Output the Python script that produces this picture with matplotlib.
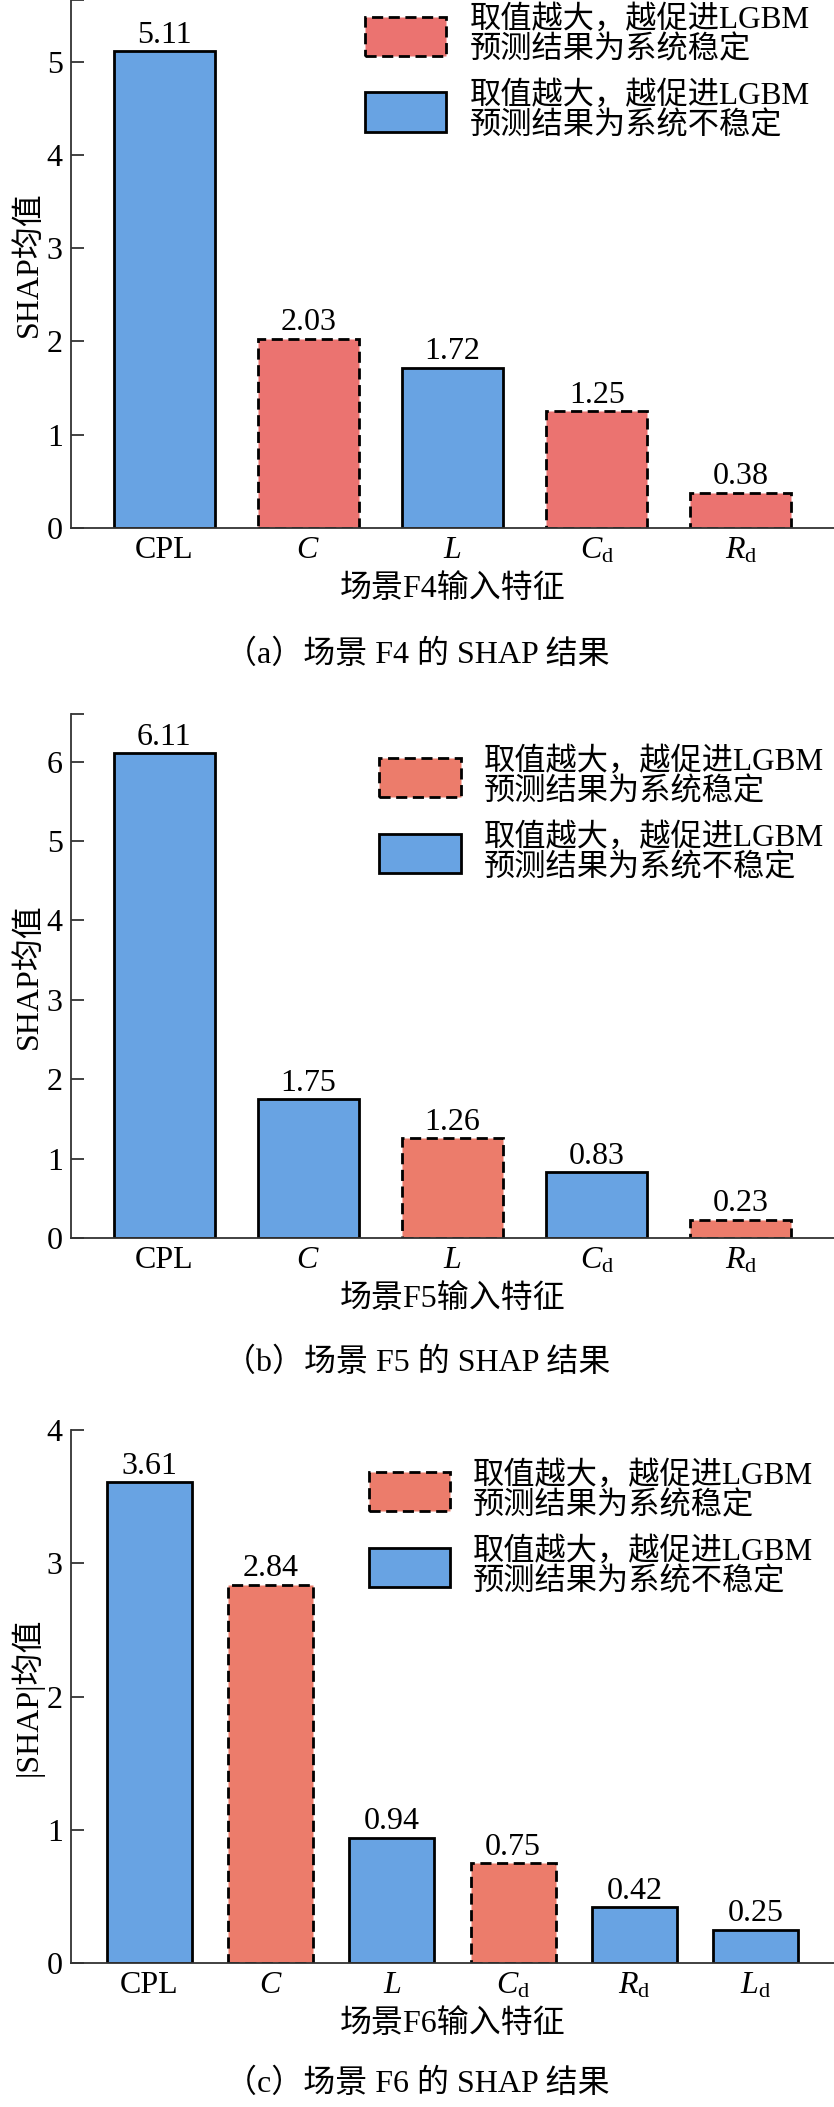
import matplotlib
matplotlib.use('Agg')
import matplotlib.pyplot as plt
from matplotlib.patches import Patch

plt.rcParams['font.family'] = ['Liberation Serif', 'Noto Sans CJK SC']
plt.rcParams['mathtext.fontset'] = 'custom'
plt.rcParams['mathtext.rm'] = 'Liberation Serif'
plt.rcParams['mathtext.it'] = 'Liberation Serif:italic'

# data
feat_5 = ['CPL', '$C$', '$L$', '$C_{\\mathrm{d}}$', '$R_{\\mathrm{d}}$']
feat_6 = ['CPL', '$C$', '$L$', '$C_{\\mathrm{d}}$', '$R_{\\mathrm{d}}$', '$L_{\\mathrm{d}}$']

f4_vals = [5.11, 2.03, 1.72, 1.25, 0.38]
f4_stable = [False, True, False, True, True]
f5_vals = [6.11, 1.75, 1.26, 0.83, 0.23]
f5_stable = [False, False, True, False, True]
f6_vals = [3.61, 2.84, 0.94, 0.75, 0.42, 0.25]
f6_stable = [False, True, False, True, False, False]

xlabels = ['场景F4输入特征', '场景F5输入特征', '场景F6输入特征']
ylabels = ['SHAP均值', 'SHAP均值', '|SHAP|均值']
captions = ['（a）场景 F4 的 SHAP 结果', '（b）场景 F5 的 SHAP 结果', '（c）场景 F6 的 SHAP 结果']
leg_labels = ['取值越大，越促进LGBM\n预测结果为系统稳定',
              '取值越大，越促进LGBM\n预测结果为系统不稳定']

blue = '#68A3E3'
reds = ['#EB7370', '#EC7C6B', '#EC7C6B']

FS = 23
W, H = 834, 2107
fig = plt.figure(figsize=(W / 100, H / 100), dpi=100)

# panel boxes in pixels: (top, bottom, ylim top, legend x, legend y, caption y)
panels = [
    (0, 528, 5.66, 0.385, 0.99, 655),
    (714, 1238, 6.6, 0.404, 0.937, 1363),
    (1430, 1963, 4.0, 0.390, 0.942, 2084),
]
data = [(feat_5, f4_vals, f4_stable), (feat_5, f5_vals, f5_stable), (feat_6, f6_vals, f6_stable)]

left = 71
for i, ((top, bot, ymax, lx, ly, cy), (feats, vals, stable)) in enumerate(zip(panels, data)):
    ax = fig.add_axes([left / W, 1 - bot / H, (W - left) / W, (bot - top) / H])
    red = reds[i]
    n = len(vals)
    x = list(range(n))
    colors = [red if s else blue for s in stable]
    styles = [(0, (4, 2)) if s else '-' for s in stable]
    bars = ax.bar(x, vals, width=0.7, color=colors, edgecolor='black', linewidth=2.0, zorder=2)
    for b, ls in zip(bars, styles):
        b.set_linestyle(ls)
    ax.bar_label(bars, labels=[f'{v:.2f}' for v in vals], padding=1, fontsize=FS)

    ax.set_xlim(-0.645, n - 1 + 0.645)
    ax.set_ylim(0, ymax)
    ax.set_xticks(x)
    ax.set_xticklabels(feats, fontsize=FS)
    ax.set_yticks(range(int(ymax) + 1))
    ax.tick_params(axis='y', labelsize=FS)
    if ymax != int(ymax):
        ax.set_yticks([ymax], minor=True)
        ax.tick_params(axis='y', which='minor', direction='in', length=9, width=1.3, color='#333333')
    ax.tick_params(axis='both', which='major', direction='in', length=9, width=1.3, color='#333333', pad=6)
    ax.tick_params(axis='x', pad=6)
    for s in ['top', 'right']:
        ax.spines[s].set_visible(False)
    for s in ['left', 'bottom']:
        ax.spines[s].set_linewidth(1.3)
        ax.spines[s].set_color('#333333')
        ax.spines[s].set_zorder(3)

    ax.set_xlabel(xlabels[i], fontsize=FS, labelpad=6)
    ax.set_ylabel(ylabels[i], fontsize=FS, labelpad=2)

    handles = [Patch(facecolor=red, edgecolor='black', linewidth=2.0, linestyle=(0, (4, 2))),
               Patch(facecolor=blue, edgecolor='black', linewidth=2.0)]
    leg = ax.legend(handles=handles, labels=leg_labels, loc='upper left', bbox_to_anchor=(lx, ly),
                    frameon=False, fontsize=22.5, handlelength=2.6, handleheight=1.55,
                    handletextpad=0.75, labelspacing=0.5, borderpad=0, borderaxespad=0)
    for t in leg.get_texts():
        t.set_linespacing(1.05)

    fig.text(0.5, 1 - cy / H, captions[i], ha='center', va='center', fontsize=FS)

fig.savefig('out.png', dpi=100)
